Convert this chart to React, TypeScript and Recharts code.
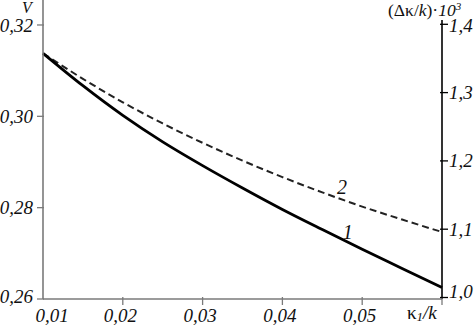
import React from 'react';
import { LineChart, Line, XAxis, YAxis, ReferenceLine, ReferenceDot } from 'recharts';

const xValues = [0.01, 0.015, 0.02, 0.025, 0.03, 0.035, 0.04, 0.045, 0.05, 0.055, 0.06];
const curve1V = [0.3138, 0.3067, 0.3002, 0.2944, 0.2892, 0.2843, 0.2796, 0.2752, 0.2709, 0.2667, 0.2625];
const curve2Dk = [1.3575, 1.3202, 1.2858, 1.2548, 1.2265, 1.2004, 1.1763, 1.1539, 1.1331, 1.1141, 1.0959];

const xTicks = [0.01, 0.02, 0.03, 0.04, 0.05, 0.06];
const leftTicks = [0.26, 0.28, 0.3, 0.32];
const rightTicks = [1.0, 1.1, 1.2, 1.3, 1.4];
const leftDomain = [0.26, 0.32547];
const rightDomain = [0.9978, 1.43558];

const label1 = { x: 0.0482, y: 0.2747, text: '1' };
const label2 = { x: 0.04746, y: 1.1622, text: '2' };

const data = xValues.map((x, i) => ({ x, v: curve1V[i], dk: curve2Dk[i] }));

const FONT = "'Liberation Serif', 'Times New Roman', Times, serif";
const TXT: React.CSSProperties = { fontFamily: FONT };
const fmt = (v: number, d: number) => v.toFixed(d).replace('.', ',');

const LeftTick = (props: any) => {
  const { x, y, payload } = props;
  const off = payload.value === 0.26 ? -2.5 : payload.value === 0.32 ? 1 : 0;
  return (
    <g>
      <line x1={x - 4} x2={x + 3} y1={y} y2={y} stroke="#7a7a7a" strokeWidth={1.3} />
      <text x={x - 8} y={y + off} dy={6.5} textAnchor="end" style={TXT} fontStyle="italic" fontSize={19} fill="#111">
        {fmt(payload.value, 2)}
      </text>
    </g>
  );
};

const RightTick = (props: any) => {
  const { x, y, payload } = props;
  const off = payload.value === 1.0 ? -5.5 : payload.value === 1.4 ? 1 : 0;
  return (
    <g>
      <line x1={x - 4} x2={x + 4} y1={y} y2={y} stroke="#000" strokeWidth={1.3} />
      <text x={x + 5} y={y + off} dy={6.5} textAnchor="start" style={TXT} fontStyle="italic" fontSize={19} fill="#111">
        {fmt(payload.value, 1)}
      </text>
    </g>
  );
};

const BottomTick = (props: any) => {
  const { x, y, payload } = props;
  if (payload.value === 0.06) {
    return (
      <line x1={x} x2={x} y1={y - 4} y2={y + 4} stroke="#7a7a7a" strokeWidth={1.3} />
    );
  }
  const dx = payload.value === 0.01 ? 9 : -2.5;
  return (
    <g>
      {payload.value !== 0.01 && (
        <line x1={x} x2={x} y1={y - 4} y2={y + 4} stroke="#7a7a7a" strokeWidth={1.3} />
      )}
      <text x={x + dx} y={y + 21} textAnchor="middle" style={TXT} fontStyle="italic" fontSize={19} fill="#111">
        {fmt(payload.value, 2)}
      </text>
    </g>
  );
};

const CurveLabel = (text: string) => (p: any) => (
  <text x={p.cx} y={p.cy} dy={7} textAnchor="middle" style={TXT} fontStyle="italic" fontSize={20} fill="#111">
    {text}
  </text>
);

export default function App() {
  return (
    <div style={{ position: 'absolute', left: 0, top: 0, width: 474, height: 325, background: '#fff' }}>
      <LineChart width={474} height={325} data={data} margin={{ top: 0, right: 0, bottom: 0, left: 0 }}>
        <XAxis
          dataKey="x"
          type="number"
          domain={[0.01, 0.06]}
          ticks={xTicks}
          interval={0}
          height={26}
          tickSize={0}
          tickLine={false}
          axisLine={{ stroke: '#7a7a7a', strokeWidth: 1.6 }}
          tick={<BottomTick />}
        />
        <YAxis
          yAxisId="left"
          orientation="left"
          type="number"
          domain={leftDomain}
          ticks={leftTicks}
          interval={0}
          width={43}
          tickSize={0}
          tickLine={false}
          axisLine={{ stroke: '#7a7a7a', strokeWidth: 1.6 }}
          tick={<LeftTick />}
        />
        <YAxis
          yAxisId="right"
          orientation="right"
          type="number"
          domain={rightDomain}
          ticks={rightTicks}
          interval={0}
          width={32}
          tickSize={0}
          tickLine={false}
          axisLine={false}
          tick={<RightTick />}
        />
        <ReferenceLine
          yAxisId="right"
          segment={[{ x: 0.06, y: 0.9978 }, { x: 0.06, y: 1.4063 }]}
          stroke="#000"
          strokeWidth={1.6}
        />
        <Line
          yAxisId="right"
          dataKey="dk"
          type="monotone"
          stroke="#222"
          strokeWidth={2}
          strokeDasharray="7 4"
          dot={false}
          activeDot={false}
          isAnimationActive={false}
        />
        <Line
          yAxisId="left"
          dataKey="v"
          type="monotone"
          stroke="#000"
          strokeWidth={2.8}
          dot={false}
          activeDot={false}
          isAnimationActive={false}
        />
        <ReferenceDot yAxisId="left" x={label1.x} y={label1.y} r={0} shape={CurveLabel(label1.text)} />
        <ReferenceDot yAxisId="right" x={label2.x} y={label2.y} r={0} shape={CurveLabel(label2.text)} />
      </LineChart>
      <svg width={474} height={325} style={{ position: 'absolute', left: 0, top: 0, pointerEvents: 'none' }}>
        <text x={22} y={13} style={TXT} fontStyle="italic" fontSize={16} fill="#111">V</text>
        <text x={388} y={15.5} style={TXT} fontSize={17.5} fill="#111">
          <tspan>(Δκ/</tspan>
          <tspan fontStyle="italic">k</tspan>
          <tspan>)·</tspan>
          <tspan fontStyle="italic">10</tspan>
          <tspan fontStyle="italic" fontSize={11} dy={-5.5}>3</tspan>
        </text>
        <text x={407} y={319} style={TXT} fontSize={19} fill="#111">
          <tspan>κ</tspan>
          <tspan fontStyle="italic" fontSize={13} dy={2}>1</tspan>
          <tspan fontStyle="italic" dy={-2}>/k</tspan>
        </text>
      </svg>
    </div>
  );
}
